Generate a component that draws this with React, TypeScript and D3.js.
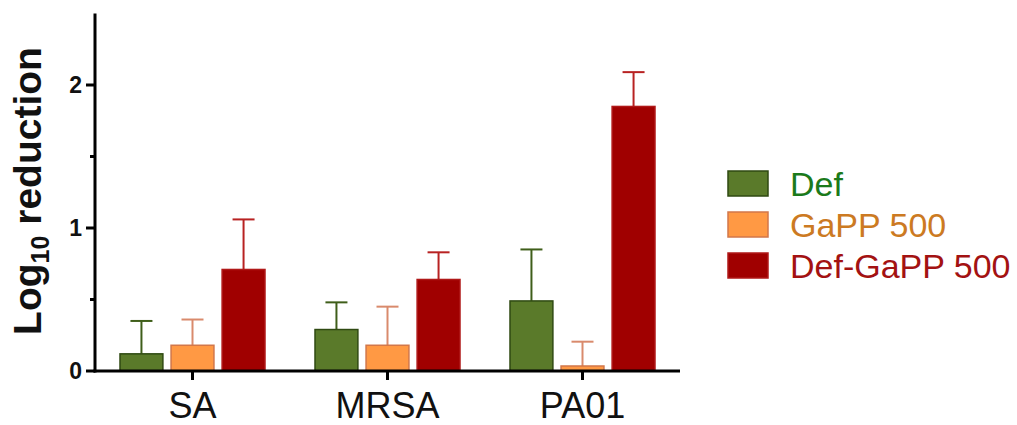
import React from "react";
import * as d3 from "d3";

const categories = ["SA", "MRSA", "PA01"];
const seriesNames = ["Def", "GaPP 500", "Def-GaPP 500"];
const defValues = [0.12, 0.29, 0.49];
const defErrors = [0.23, 0.19, 0.36];
const gappValues = [0.18, 0.18, 0.035];
const gappErrors = [0.18, 0.27, 0.17];
const defGappValues = [0.71, 0.64, 1.85];
const defGappErrors = [0.35, 0.19, 0.24];
const yTicks = [0, 1, 2];
const yMinorTicks = [0.5, 1.5];

const fills = ["#5a7a2a", "#ff9944", "#a00000"];
const strokes = ["#2f4a12", "#d2774a", "#b01818"];
const errColors = ["#3f5e1a", "#d98a6c", "#b82222"];
const textColors = ["#1b7a1b", "#cc7a22", "#a31212"];

export default function App() {
  const W = 1017, H = 425;
  const x0 = 95, yZero = 371;
  const y = d3.scaleLinear().domain([0, 2.5]).range([yZero, yZero - 2.5 * 143]);
  const x = d3.scaleBand().domain(categories).range([x0, x0 + 585]).paddingInner(0).paddingOuter(0);
  const inner = d3.scaleBand().domain(seriesNames).range([0, 145]).paddingInner(0.16);
  const series = [
    { name: seriesNames[0], values: defValues, errors: defErrors },
    { name: seriesNames[1], values: gappValues, errors: gappErrors },
    { name: seriesNames[2], values: defGappValues, errors: defGappErrors },
  ];
  const font = "'Liberation Sans', Arial, sans-serif";
  return (
    <svg width={W} height={H} style={{ position: "absolute", left: 0, top: 0, background: "#fff" }} fontFamily={font}>
      {series.map((s, si) =>
        categories.map((c, ci) => {
          const cx = x(c)! + x.bandwidth() / 2;
          const bx = cx - 72.5 + inner(s.name)!;
          const bw = inner.bandwidth();
          const top = y(s.values[ci]);
          const errTop = y(s.values[ci] + s.errors[ci]);
          const mx = bx + bw / 2;
          return (
            <g key={s.name + c}>
              <line x1={mx} x2={mx} y1={top} y2={errTop} stroke={errColors[si]} strokeWidth={2} />
              <line x1={mx - 11} x2={mx + 11} y1={errTop} y2={errTop} stroke={errColors[si]} strokeWidth={2} />
              <rect x={bx} y={top} width={bw} height={yZero - top} fill={fills[si]} stroke={strokes[si]} strokeWidth={1.5} />
            </g>
          );
        })
      )}
      {/* y axis */}
      <line x1={x0} x2={x0} y1={y(2.5)} y2={yZero + 1.5} stroke="#000" strokeWidth={3} />
      {yTicks.map((t) => (
        <g key={t}>
          <line x1={x0 - 9} x2={x0} y1={y(t)} y2={y(t)} stroke="#000" strokeWidth={3} />
          <text x={x0 - 13} y={y(t)} dy="0.36em" textAnchor="end" fontSize={23} fontWeight="bold" fill="#111">{t}</text>
        </g>
      ))}
      {yMinorTicks.map((t) => (
        <line key={t} x1={x0 - 5} x2={x0} y1={y(t)} y2={y(t)} stroke="#000" strokeWidth={3} />
      ))}
      {/* x axis */}
      <line x1={x0 - 1.5} x2={x0 + 585} y1={yZero} y2={yZero} stroke="#000" strokeWidth={3} />
      {categories.map((c) => {
        const cx = x(c)! + x.bandwidth() / 2;
        return (
          <g key={c}>
            <line x1={cx} x2={cx} y1={yZero} y2={yZero + 9} stroke="#000" strokeWidth={3} />
            <text x={cx} y={418} textAnchor="middle" fontSize={36} fill="#111">{c}</text>
          </g>
        );
      })}
      <text transform={`translate(41,191) rotate(-90)`} textAnchor="middle" fontSize={39} fontWeight="bold" fill="#111">
        Log<tspan fontSize={25} dy={8}>10</tspan><tspan dy={-8}> reduction</tspan>
      </text>
      {/* legend */}
      {seriesNames.map((n, i) => (
        <g key={n}>
          <rect x={728} y={171 + i * 41} width={40} height={25} fill={fills[i]} stroke={strokes[i]} strokeWidth={1.5} />
          <text x={790} y={183.5 + i * 41} dy="0.36em" fontSize={34} fill={textColors[i]}>{n}</text>
        </g>
      ))}
    </svg>
  );
}
